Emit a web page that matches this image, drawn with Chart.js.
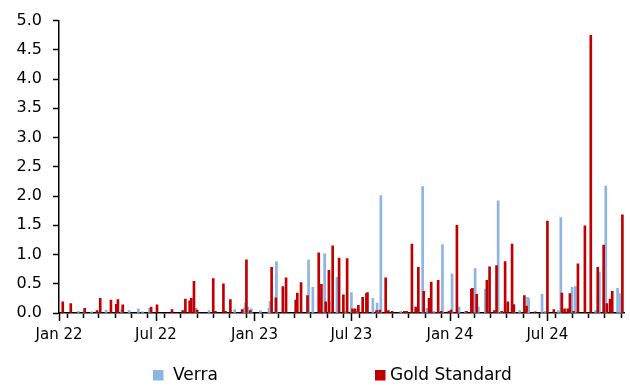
<!DOCTYPE html>
<html>
<head>
<meta charset="utf-8">
<script src="https://cdn.jsdelivr.net/npm/chart.js@4/dist/chart.umd.min.js"></script>
<style>
  html, body { margin: 0; padding: 0; background: #fff; }
  #wrap { width: 630px; height: 385px; }
</style>
</head>
<body>
<div id="wrap"><canvas id="c" width="630" height="385"></canvas></div>
<script>
// Issuance dates and volumes per registry
const verraDates = [
  '2022-02-06','2022-02-17','2022-03-03','2022-03-30','2022-04-28','2022-05-12','2022-05-29','2022-06-06',
  '2022-06-19','2022-09-14','2022-10-08','2022-11-25','2022-12-13','2022-12-15','2022-12-20','2022-12-26',
  '2023-01-12','2023-01-28','2023-01-30','2023-02-11','2023-04-12','2023-04-20','2023-05-12','2023-05-21',
  '2023-06-04','2023-06-20','2023-07-01','2023-07-12','2023-08-10','2023-08-18','2023-08-25','2023-10-01',
  '2023-11-11','2023-11-19','2023-12-02','2023-12-18','2024-01-05','2024-01-18','2024-01-30','2024-02-17',
  '2024-02-23','2024-03-07','2024-03-31','2024-04-06','2024-04-30','2024-05-10','2024-05-25','2024-05-27',
  '2024-06-21','2024-06-27','2024-07-21','2024-07-26','2024-08-16','2024-08-22','2024-09-29','2024-10-06',
  '2024-10-18','2024-11-09','2024-11-14'
];
const verraValues = [
  0.03,0.03,0.02,0.05,0.06,0.04,0.07,0.02,
  0.08,0.08,0.04,0.06,0.09,0.17,0.10,0.07,
  0.04,0.08,0.20,0.88,0.91,0.44,1.01,0.19,
  0.61,0.03,0.35,0.03,0.25,0.17,2.01,0.03,
  2.16,0.08,0.03,1.17,0.67,0.10,0.03,0.76,
  0.10,0.41,1.92,0.03,0.15,0.04,0.27,0.24,
  0.32,0.03,0.04,1.63,0.44,0.45,0.04,0.70,
  2.17,0.42,0.33
];

const goldDates = [
  '2022-01-08','2022-01-23','2022-02-18','2022-03-13','2022-03-19','2022-04-08','2022-04-18','2022-04-21',
  '2022-04-30','2022-06-22','2022-07-03','2022-07-31','2022-08-20','2022-08-25','2022-09-02','2022-09-05',
  '2022-09-10','2022-09-16','2022-10-16','2022-10-20','2022-11-04','2022-11-08','2022-11-17','2022-12-09',
  '2022-12-17','2022-12-24','2023-02-02','2023-02-10','2023-02-23','2023-03-01','2023-03-19','2023-03-22',
  '2023-03-29','2023-04-10','2023-05-01','2023-05-03','2023-05-06','2023-05-14','2023-05-20','2023-05-27',
  '2023-06-08','2023-06-16','2023-06-23','2023-07-03','2023-07-08','2023-07-14','2023-07-22','2023-07-29',
  '2023-07-31','2023-08-17','2023-08-23','2023-09-03','2023-09-08','2023-09-15','2023-10-08','2023-10-12',
  '2023-10-22','2023-10-29','2023-11-03','2023-11-13','2023-11-23','2023-11-27','2023-12-10','2023-12-16',
  '2023-12-30','2024-01-03','2024-01-14','2024-02-01','2024-02-10','2024-02-12','2024-02-20','2024-03-10',
  '2024-03-15','2024-03-24','2024-03-28','2024-04-07','2024-04-13','2024-04-18','2024-04-26','2024-04-29',
  '2024-05-19','2024-05-23','2024-06-08','2024-07-01','2024-07-13','2024-07-28','2024-08-02','2024-08-08',
  '2024-08-12','2024-08-19','2024-08-27','2024-09-09','2024-09-20','2024-10-03','2024-10-14','2024-10-20',
  '2024-10-26','2024-10-30','2024-11-18'
];
const goldValues = [
  0.19,0.16,0.08,0.04,0.25,0.22,0.15,0.23,
  0.14,0.10,0.14,0.06,0.04,0.24,0.21,0.25,
  0.54,0.05,0.59,0.03,0.50,0.03,0.23,0.06,
  0.91,0.04,0.78,0.26,0.45,0.60,0.22,0.34,
  0.52,0.30,1.03,0.05,0.49,0.19,0.73,1.15,
  0.94,0.31,0.93,0.07,0.07,0.13,0.27,0.33,
  0.35,0.04,0.05,0.60,0.04,0.03,0.03,0.03,
  1.18,0.10,0.78,0.37,0.25,0.53,0.56,0.03,
  0.03,0.05,1.50,0.03,0.41,0.42,0.32,0.56,
  0.79,0.04,0.81,0.03,0.88,0.19,1.18,0.14,
  0.30,0.12,0.02,1.57,0.06,0.34,0.07,0.07,
  0.33,0.03,0.84,1.49,4.75,0.78,1.16,0.16,
  0.24,0.37,1.68
];

// Axis range and tick labels
const axisStart = '2022-01-01';
const axisEnd = '2024-11-21';
const halfYearLabels = ['Jan 22','Jul 22','Jan 23','Jul 23','Jan 24','Jul 24'];

const DAY = 86400000;
const t0 = Date.parse(axisStart);
const dayOf = s => Math.round((Date.parse(s) - t0) / DAY);
const toPoints = (dates, vals) => dates.map((d, i) => ({ x: dayOf(d), y: vals[i] }));

// Month-start ticks across the axis
const monthTicks = [];
const monthIndex = {};
{
  let y = 2022, m = 0;
  const end = Date.parse(axisEnd);
  while (Date.UTC(y, m, 1) <= end) {
    const v = Math.round((Date.UTC(y, m, 1) - t0) / DAY);
    monthTicks.push(v);
    monthIndex[v] = { y, m };
    m++; if (m > 11) { m = 0; y++; }
  }
}
function tickLabel(v) {
  const info = monthIndex[v];
  if (!info || (info.m !== 0 && info.m !== 6)) return '';
  const idx = (info.y - 2022) * 2 + (info.m === 6 ? 1 : 0);
  return halfYearLabels[idx] || '';
}

const FONT = 'DejaVu Sans';

// Slightly longer marks at January and July
const halfYearTicks = {
  id: 'halfYearTicks',
  afterDraw(chart) {
    const xs = chart.scales.x, ctx = chart.ctx;
    const yb = chart.chartArea.bottom;
    ctx.save();
    ctx.strokeStyle = '#000';
    ctx.lineWidth = 1.5;
    monthTicks.forEach(v => {
      if (tickLabel(v) === '') return;
      const px = Math.round(xs.getPixelForValue(v)) + 0.5;
      ctx.beginPath();
      ctx.moveTo(px, yb);
      ctx.lineTo(px, yb + 8);
      ctx.stroke();
    });
    ctx.restore();
  }
};

// Legend row beneath the axis
const bottomLegend = {
  id: 'bottomLegend',
  afterDraw(chart) {
    const ctx = chart.ctx;
    const items = [
      { ds: chart.data.datasets[0], box: 153, text: 173 },
      { ds: chart.data.datasets[1], box: 375, text: 390 }
    ];
    ctx.save();
    ctx.font = '17px "' + FONT + '"';
    ctx.textBaseline = 'middle';
    ctx.fillStyle = '#000';
    items.forEach(it => {
      ctx.fillStyle = it.ds.backgroundColor;
      ctx.fillRect(it.box, 370, 10.5, 10.5);
      ctx.fillStyle = '#000';
      ctx.fillText(it.ds.label, it.text, 376);
    });
    ctx.restore();
  }
};

new Chart(document.getElementById('c'), {
  type: 'bar',
  data: {
    datasets: [
      {
        label: 'Verra',
        data: toPoints(verraDates, verraValues),
        backgroundColor: '#8DB4E2',
        barThickness: 2,
        grouped: false,
        order: 2
      },
      {
        label: 'Gold Standard',
        data: toPoints(goldDates, goldValues),
        backgroundColor: '#C00000',
        barThickness: 2,
        grouped: false,
        order: 1
      }
    ]
  },
  options: {
    responsive: false,
    animation: false,
    devicePixelRatio: 1,
    layout: { padding: { top: 16, right: 6, bottom: 42, left: 0 } },
    plugins: {
      legend: { display: false },
      tooltip: { enabled: false }
    },
    scales: {
      x: {
        type: 'linear',
        min: 0,
        max: dayOf(axisEnd),
        offset: false,
        afterBuildTicks: s => { s.ticks = monthTicks.map(v => ({ value: v })); },
        afterFit: s => { s.height = 30; },
        grid: {
          display: true,
          drawOnChartArea: false,
          drawTicks: true,
          tickLength: 5,
          tickColor: '#000',
          tickWidth: 1.5
        },
        border: { display: true, color: '#000', width: 1.5 },
        ticks: {
          autoSkip: false,
          maxRotation: 0,
          minRotation: 0,
          padding: 8,
          color: '#000',
          font: { family: FONT, size: 15 },
          callback: v => tickLabel(v)
        }
      },
      y: {
        min: 0,
        max: 5,
        afterFit: s => { s.width = 59; },
        grid: {
          display: true,
          drawOnChartArea: false,
          drawTicks: true,
          tickLength: 6,
          tickColor: '#000',
          tickWidth: 1.5
        },
        border: { display: true, color: '#000', width: 1.5 },
        ticks: {
          stepSize: 0.5,
          padding: 11,
          color: '#000',
          font: { family: FONT, size: 16 },
          callback: v => Number(v).toFixed(1)
        }
      }
    }
  },
  plugins: [halfYearTicks, bottomLegend]
});
</script>
</body>
</html>
